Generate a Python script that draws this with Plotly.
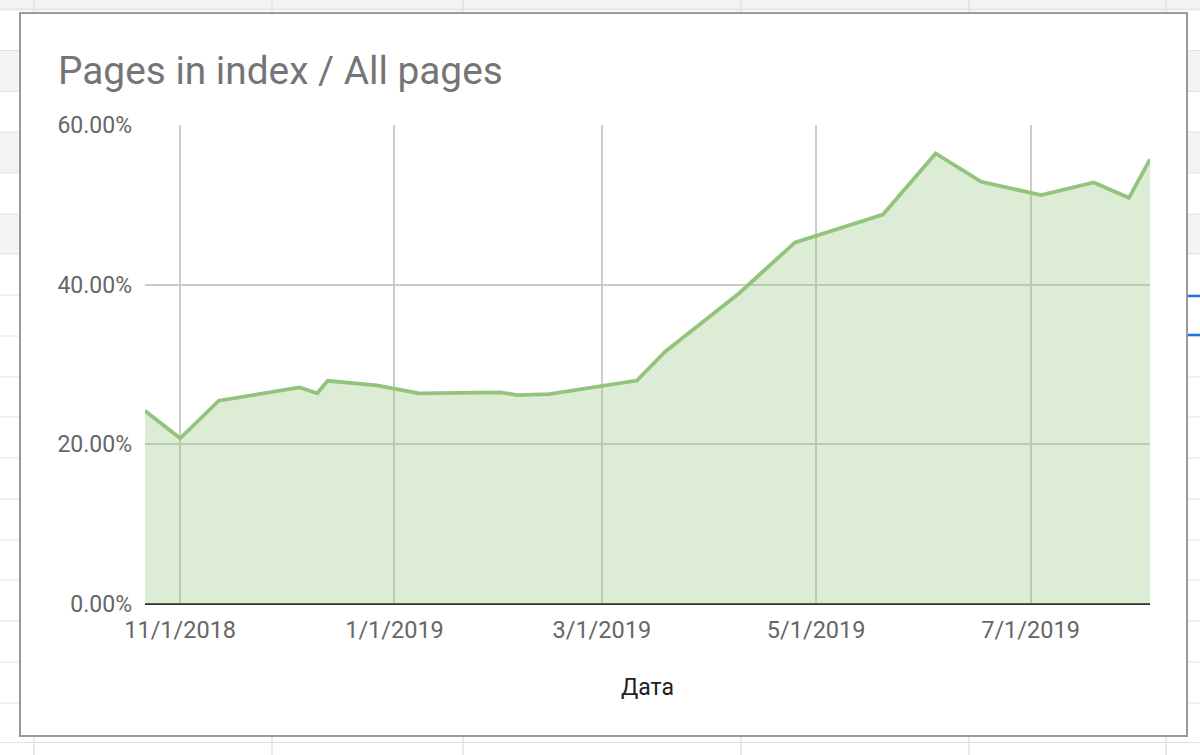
import plotly.graph_objects as go

# ---- data ----
dates = ["2018-10-22", "2018-11-01", "2018-11-12", "2018-12-05", "2018-12-10", "2018-12-13",
         "2018-12-27", "2019-01-08", "2019-01-31", "2019-02-05", "2019-02-14", "2019-03-11",
         "2019-03-19", "2019-04-09", "2019-04-25", "2019-05-20", "2019-06-04", "2019-06-17",
         "2019-07-04", "2019-07-19", "2019-07-29", "2019-08-04"]
ratio = [0.242, 0.2075, 0.2546, 0.2714, 0.2639, 0.2796,
         0.2739, 0.2639, 0.2651, 0.2617, 0.2630, 0.2799,
         0.316, 0.389, 0.453, 0.4878, 0.5644, 0.5289,
         0.5122, 0.5281, 0.5088, 0.5569]
title_text = "Pages in index / All pages"
x_title = "Дата"

W, H = 1200, 755
L, R, T, B = 145, 1150, 125, 604  # plot area in pixels


def px(x):
    return (x - L) / (R - L)


def py(y):
    return (B - y) / (B - T)


shapes = []
GRAY_BAND = "#f3f3f3"
LINE = "#e2e2e2"
# spreadsheet bands
for (y0, y1) in [(0, 9), (50.5, 91.5), (132, 173), (214, 254)]:
    shapes.append(dict(type="rect", xref="paper", yref="paper", layer="below",
                       x0=px(0), x1=px(W), y0=py(y1), y1=py(y0),
                       fillcolor=GRAY_BAND, line_width=0))
for y in [9, 10, 50.5, 91.5, 132, 173, 214, 254, 295, 336, 377, 417, 458, 499, 540, 580,
          621, 662, 703, 742.5]:
    shapes.append(dict(type="line", xref="paper", yref="paper", layer="below",
                       x0=px(0), x1=px(W), y0=py(y), y1=py(y),
                       line=dict(color=LINE, width=1)))
for x in [34, 272, 463, 741, 969, 1166]:
    shapes.append(dict(type="line", xref="paper", yref="paper", layer="below",
                       x0=px(x), x1=px(x), y0=py(0), y1=py(H),
                       line=dict(color=LINE, width=1.5)))
# blue marks at right edge
for y in [296, 335]:
    shapes.append(dict(type="line", xref="paper", yref="paper", layer="below",
                       x0=px(1188), x1=px(W), y0=py(y), y1=py(y),
                       line=dict(color="#1a73e8", width=2.5)))
# chart frame
shapes.append(dict(type="rect", xref="paper", yref="paper", layer="below",
                   x0=px(20), x1=px(1187), y0=py(736), y1=py(13),
                   fillcolor="white", line=dict(color="#9a9a9a", width=2)))

fig = go.Figure()
fig.add_trace(go.Scatter(
    x=dates, y=ratio, mode="lines",
    line=dict(color="#93c47d", width=3.8),
    fill="tozeroy", fillcolor="rgba(147,196,125,0.32)",
    hoverinfo="x+y",
))

fig.update_layout(
    width=W, height=H,
    margin=dict(l=L, r=W - R, t=T, b=H - B),
    paper_bgcolor="white", plot_bgcolor="rgba(0,0,0,0)",
    showlegend=False,
    shapes=shapes,
    font=dict(family="Roboto", size=23, color="#666666"),
    title=dict(text=title_text, xref="container", yref="container",
               x=58 / W, xanchor="left", y=1 - 70 / H, yanchor="middle",
               font=dict(family="Roboto", size=38.8, color="#757575")),
    xaxis=dict(
        type="date", range=[dates[0], dates[-1]],
        tick0="2018-11-01", dtick="M2", tickformat="%-m/%-d/%Y",
        showgrid=True, gridcolor="#cccccc", gridwidth=1.5,
        zeroline=False, showline=False, ticks="", ticklabelstandoff=9,
        tickfont=dict(family="Roboto", size=23.5, color="#666666"),
        title=dict(text=x_title, standoff=36,
                   font=dict(family="Roboto", size=23, color="#222222")),
    ),
    yaxis=dict(
        range=[0, 0.6], dtick=0.2, tickformat=".2%",
        showgrid=True, gridcolor="#cccccc", gridwidth=1.5,
        zeroline=True, zerolinecolor="#333333", zerolinewidth=1.5,
        showline=False, ticks="", ticklabelstandoff=12,
        tickfont=dict(family="Roboto", size=23, color="#666666"),
    ),
)

fig.write_html("out.html", config={"displayModeBar": False},
               post_script="document.body.style.margin='0';")
